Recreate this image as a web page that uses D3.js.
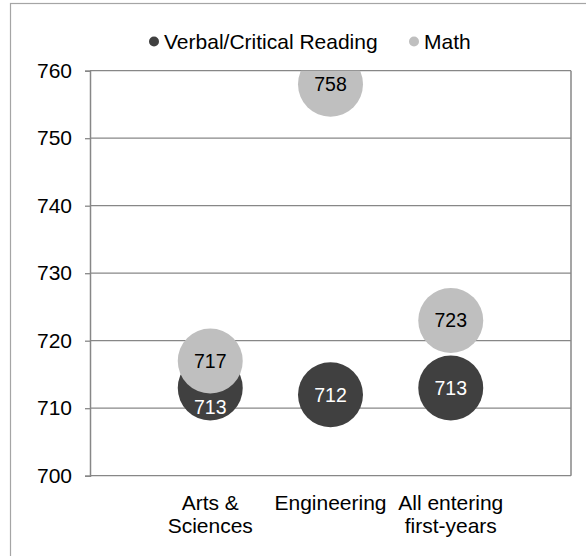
<!DOCTYPE html>
<html>
<head>
<meta charset="utf-8">
<script src="https://cdn.jsdelivr.net/npm/d3@7"></script>
<style>
  body { margin: 0; background: #ffffff; }
  svg { display: block; font-family: "Liberation Sans", Arial, sans-serif; }
</style>
</head>
<body>
<div id="chart"></div>
<script>
// chart data
var categories = [["Arts &", "Sciences"], ["Engineering"], ["All entering", "first-years"]];
var verbal = [713, 712, 713];
var math = [717, 758, 723];
var series_names = ["Verbal/Critical Reading", "Math"];
var y_ticks = [700, 710, 720, 730, 740, 750, 760];

var width = 586, height = 556;
var dark = "#404040", light = "#bfbfbf", grid = "#878787";

// plot area (window.top is reserved, so prefix the names)
var plot_left = 90, plot_right = 571, plot_top = 70.7, plot_bottom = 475.7;
var radius = 32.5;

var svg = d3.select("#chart").append("svg")
  .attr("width", width)
  .attr("height", height);

// outer frame, only top and left are inside the picture
svg.append("rect")
  .attr("x", 10.5).attr("y", 3.5)
  .attr("width", width + 20).attr("height", height + 20)
  .attr("fill", "#ffffff")
  .attr("stroke", "#a5a5a5")
  .attr("stroke-width", 1.2);

var x = d3.scaleLinear().domain([0, categories.length + 1]).range([plot_left, plot_right]);
var y = d3.scaleLinear().domain([700, 760]).range([plot_bottom, plot_top]);

// gridlines
svg.append("g").selectAll("line").data(y_ticks).enter().append("line")
  .attr("x1", plot_left).attr("x2", plot_right)
  .attr("y1", function(d){ return y(d); })
  .attr("y2", function(d){ return y(d); })
  .attr("stroke", grid)
  .attr("stroke-width", 1.3);

// right border of the plot
svg.append("line")
  .attr("x1", plot_right).attr("x2", plot_right)
  .attr("y1", y(760)).attr("y2", y(700))
  .attr("stroke", grid).attr("stroke-width", 1.5);

// y axis
var y_axis = svg.append("g")
  .attr("transform", "translate(" + plot_left + ",0)")
  .call(d3.axisLeft(y).tickValues(y_ticks).tickSize(5).tickPadding(13).tickFormat(d3.format("d")));
y_axis.select(".domain").attr("stroke", grid).attr("stroke-width", 1.5);
y_axis.selectAll(".tick line").attr("stroke", grid).attr("stroke-width", 1.3);
y_axis.selectAll(".tick text")
  .attr("fill", "#000000")
  .style("font-size", "21px")
  .style("font-family", "'Liberation Sans', Arial, sans-serif");

// bubbles, clipped to the plot area
svg.append("clipPath").attr("id", "plot_clip")
  .append("rect")
  .attr("x", plot_left).attr("y", plot_top)
  .attr("width", plot_right - plot_left).attr("height", plot_bottom - plot_top);

var bubbles = svg.append("g").attr("clip-path", "url(#plot_clip)");

bubbles.selectAll(".verbal").data(verbal).enter().append("circle")
  .attr("class", "verbal")
  .attr("cx", function(d, i){ return x(i + 1); })
  .attr("cy", function(d){ return y(d); })
  .attr("r", radius)
  .attr("fill", dark);

bubbles.selectAll(".math").data(math).enter().append("circle")
  .attr("class", "math")
  .attr("cx", function(d, i){ return x(i + 1); })
  .attr("cy", function(d){ return y(d); })
  .attr("r", radius)
  .attr("fill", light);

// data labels; a verbal label hidden under a math bubble is pushed down
var labels = svg.append("g")
  .style("font-size", "19.5px")
  .attr("text-anchor", "middle");

labels.selectAll(".verbal_label").data(verbal).enter().append("text")
  .attr("x", function(d, i){ return x(i + 1); })
  .attr("y", function(d, i){
    var shift = Math.abs(y(math[i]) - y(d)) < 2 * radius ? 19.5 : 0;
    return y(d) + shift;
  })
  .attr("dy", "0.35em")
  .attr("fill", "#ffffff")
  .text(function(d){ return d; });

labels.selectAll(".math_label").data(math).enter().append("text")
  .attr("x", function(d, i){ return x(i + 1); })
  .attr("y", function(d){ return y(d); })
  .attr("dy", "0.35em")
  .attr("fill", "#000000")
  .text(function(d){ return d; });

// category labels under the plot
var cat = svg.append("g")
  .style("font-size", "21px")
  .attr("text-anchor", "middle");

cat.selectAll("text").data(categories).enter().append("text")
  .attr("x", function(d, i){ return x(i + 1); })
  .attr("y", 510)
  .each(function(d){
    var t = d3.select(this);
    d.forEach(function(line, j){
      t.append("tspan")
        .attr("x", t.attr("x"))
        .attr("dy", j === 0 ? 0 : 23)
        .text(line);
    });
  });

// legend
var legend = svg.append("g").style("font-size", "21px");
var legend_x = [154, 414];
var legend_colors = [dark, light];
series_names.forEach(function(name, i){
  legend.append("circle")
    .attr("cx", legend_x[i]).attr("cy", 41.5)
    .attr("r", 5)
    .attr("fill", legend_colors[i]);
  legend.append("text")
    .attr("x", legend_x[i] + 10).attr("y", 49)
    .attr("fill", "#000000")
    .text(name);
});
</script>
</body>
</html>
